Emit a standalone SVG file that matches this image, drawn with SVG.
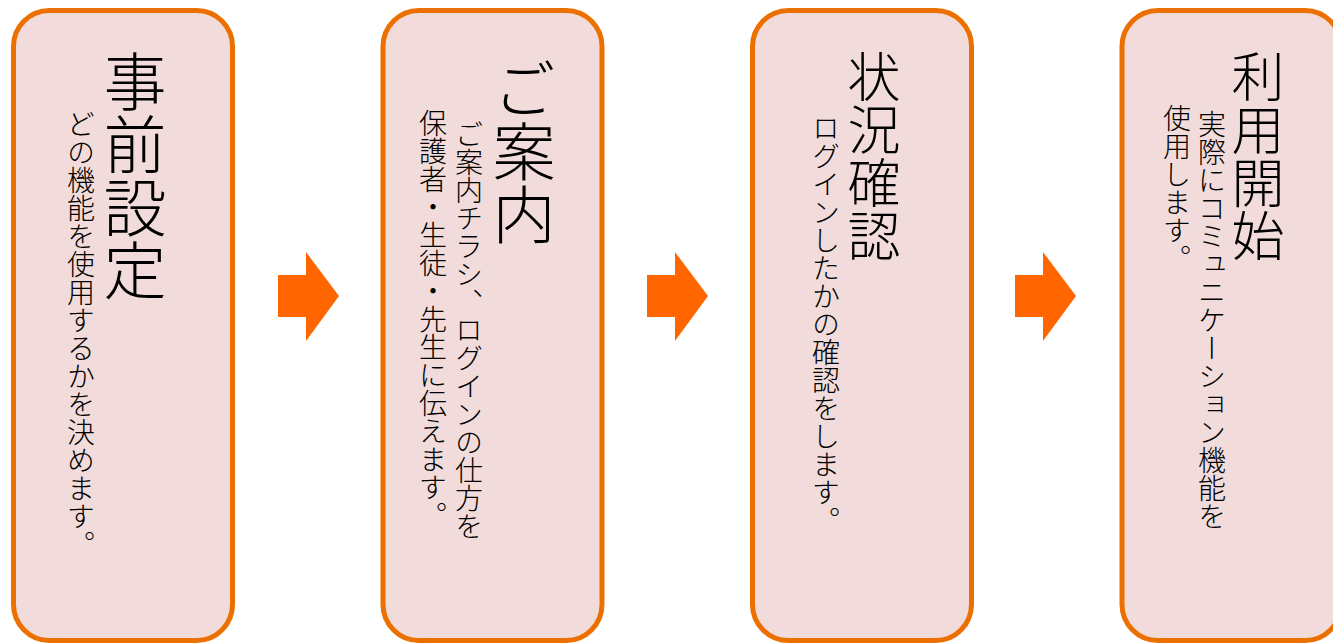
<svg xmlns="http://www.w3.org/2000/svg" width="1333" height="643" viewBox="0 0 1333 643">
<defs>
<style>
.box{fill:#F2DCDB;stroke:#EC7000;stroke-width:5}
.arr{fill:#FF6600}
text{font-family:"Noto Sans CJK JP","Noto Sans CJK SC",sans-serif;font-weight:300;fill:#000;writing-mode:vertical-rl}
.t{font-size:63px}
.t2{font-size:53px}
.s{font-size:28px}
</style>
</defs>
<rect width="1333" height="643" fill="#fff"/>
<g id="connectors">
<polygon class="arr" points="278,275 306,275 306,252 339,296 306,341 306,317 278,317"/>
<polygon class="arr" points="647,275 675,275 675,252 708,296 675,341 675,317 647,317"/>
<polygon class="arr" points="1015,275 1043,275 1043,252 1076,296 1043,341 1043,317 1015,317"/>
</g>
<g id="node1">
<rect class="box" x="13.5" y="10.5" width="219" height="630" rx="36"/>
<text class="t" x="135" y="50">事前設定</text>
<text class="s" x="81" y="110">どの機能を使用するかを決めます。</text>
</g>
<g id="node2">
<rect class="box" x="383" y="10.5" width="219" height="630" rx="36"/>
<text class="t" x="524" y="57">ご案内</text>
<text class="s" x="469" y="120">ご案内チラシ、ログインの仕方を</text>
<text class="s" x="433" y="109">保護者・生徒・先生に伝えます。</text>
</g>
<g id="node3">
<rect class="box" x="752.5" y="10.5" width="219" height="630" rx="36"/>
<text class="t2" x="874" y="50">状況確認</text>
<text class="s" x="826" y="114">ログインしたかの確認をします。</text>
</g>
<g id="node4">
<rect class="box" x="1122" y="10.5" width="219" height="630" rx="36"/>
<text class="t2" x="1258" y="50">利用開始</text>
<text class="s" x="1212" y="110">実際にコミュニケーション機能を</text>
<text class="s" x="1177" y="104">使用します。</text>
</g>
</svg>
